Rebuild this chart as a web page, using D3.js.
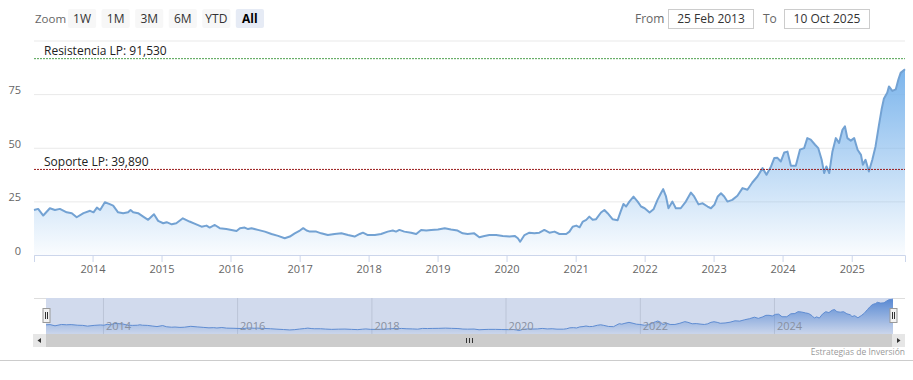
<!DOCTYPE html>
<html><head><meta charset="utf-8">
<script src="https://cdn.jsdelivr.net/npm/d3@7"></script>
<style>
body{margin:0;background:#fff;}
svg{display:block;font-family:"Open Sans",sans-serif;}
</style>
</head><body>
<svg id="chart" width="913" height="380"></svg>
<script>
const dates = ["2013-02-25","2013-03-19","2013-04-15","2013-05-20","2013-06-16","2013-07-12","2013-08-17","2013-09-13","2013-10-09","2013-11-14","2013-12-19",
"2014-01-06","2014-01-24","2014-02-10","2014-03-07","2014-04-02","2014-04-20","2014-05-16","2014-06-12","2014-07-08","2014-07-21","2014-08-04","2014-08-30","2014-09-26","2014-10-22","2014-11-22","2014-12-14",
"2015-01-10","2015-01-28","2015-02-24","2015-03-20","2015-04-24","2015-05-29","2015-07-04","2015-08-01","2015-08-27","2015-09-13","2015-10-10","2015-11-05","2015-12-10",
"2016-01-06","2016-02-02","2016-02-20","2016-03-16","2016-04-03","2016-04-21","2016-05-25","2016-07-01","2016-08-05","2016-09-09","2016-10-14","2016-11-10","2016-12-06",
"2017-01-02","2017-01-20","2017-02-07","2017-02-24","2017-03-30","2017-04-25","2017-05-30","2017-07-05","2017-08-10","2017-09-14","2017-10-19","2017-11-15","2017-12-02","2017-12-28",
"2018-02-03","2018-03-08","2018-04-12","2018-05-09","2018-05-26","2018-06-13","2018-07-09","2018-08-14","2018-09-10","2018-10-06","2018-11-02","2018-11-28",
"2019-01-03","2019-02-08","2019-03-13","2019-04-17","2019-05-14","2019-06-09","2019-07-14","2019-08-10","2019-09-06","2019-10-02","2019-11-07","2019-12-12",
"2020-01-17","2020-02-13","2020-03-01","2020-03-13","2020-04-05","2020-05-01","2020-05-27","2020-06-23","2020-07-19","2020-08-15","2020-09-11","2020-10-07","2020-11-12","2020-11-29","2020-12-16",
"2021-01-04","2021-01-22","2021-02-08","2021-02-26","2021-03-14","2021-04-01","2021-04-19","2021-05-15","2021-06-02","2021-06-19","2021-07-15","2021-08-11","2021-08-24","2021-09-11","2021-09-25","2021-10-12","2021-11-03","2021-11-25","2021-12-13",
"2022-01-01","2022-01-27","2022-02-17","2022-03-10","2022-03-28","2022-04-09","2022-04-24","2022-05-07","2022-05-28","2022-06-15","2022-07-11","2022-08-07","2022-09-03","2022-09-20","2022-10-13","2022-11-04","2022-11-30","2022-12-18",
"2023-01-05","2023-01-23","2023-02-09","2023-02-26","2023-03-15","2023-04-10","2023-05-07","2023-06-03","2023-06-29","2023-07-25","2023-08-21","2023-09-17","2023-10-08","2023-11-01","2023-11-18","2023-12-05","2023-12-23",
"2024-01-10","2024-01-27","2024-02-14","2024-03-11","2024-04-02","2024-04-24","2024-05-11","2024-05-29","2024-06-21","2024-07-08","2024-07-26","2024-08-08","2024-08-20","2024-09-04","2024-09-21","2024-10-09","2024-10-26","2024-11-13","2024-11-26","2024-12-09","2024-12-27",
"2025-01-14","2025-02-01","2025-02-19","2025-03-01","2025-03-15","2025-04-02","2025-04-20","2025-05-07","2025-05-24","2025-06-08","2025-06-20","2025-07-08","2025-07-17","2025-08-04","2025-08-22","2025-09-05","2025-09-17","2025-10-10"];
const values = [21.0,21.5,18.4,21.8,21.0,21.5,19.9,19.5,17.6,19.5,20.6,
19.9,22.1,21.0,24.6,23.7,23.0,19.9,19.5,19.9,21.0,19.9,19.5,17.9,16.4,19.0,15.9,
14.8,15.3,14.3,14.8,17.1,15.6,14.3,13.2,13.7,12.8,14.0,12.5,12.1,
11.7,11.2,12.5,12.8,12.1,12.5,11.7,10.9,9.8,8.9,7.8,8.6,10.1,
11.4,12.5,11.4,10.9,10.9,10.1,9.3,9.8,10.1,9.3,8.6,9.8,10.4,9.3,
9.3,9.8,10.9,11.4,10.9,11.7,10.9,10.4,9.8,11.7,11.4,11.7,
11.9,12.5,11.9,11.4,10.1,9.8,10.1,8.3,8.9,9.3,9.3,8.9,
8.6,8.9,7.8,6.2,9.3,10.4,10.1,10.4,11.7,10.4,10.9,9.8,9.8,10.9,13.2,
13.7,12.9,15.6,16.4,17.9,16.4,16.7,19.8,21.0,19.5,16.7,16.2,19.5,23.8,22.6,24.9,27.2,24.9,22.6,
21.8,19.8,21.3,25.7,28.8,30.7,27.3,21.8,24.9,21.8,21.8,24.9,29.1,27.3,23.6,24.1,22.6,21.8,
23.4,27.3,28.8,27.3,24.9,25.7,27.6,31.2,30.4,33.8,36.6,40.5,37.4,41.3,45.2,45.3,43.6,
47.8,48.2,41.6,41.6,49.1,49.8,54.5,53.8,51.4,49.8,44.4,38.2,41.3,38.2,48.3,54.5,52.2,58.4,60.0,54.5,53.3,
54.5,49.1,46.7,42.1,44.4,38.9,44.4,50.6,60.0,67.8,72.8,75.6,78.6,76.5,77.2,81.8,84.9,86.6];
const yTicks = [0,25,50,75,100];
const xTickYears = [2014,2015,2016,2017,2018,2019,2020,2021,2022,2023,2024,2025];
const navTickYears = [2014,2016,2018,2020,2022,2024];
const zoomButtons = ["1W","1M","3M","6M","YTD","All"];
const plotLineValues = [91.53, 39.89];
const plotLineLabels = ["Resistencia LP: 91,530","Soporte LP: 39,890"];
const plotLineColors = ["#4ea04e","#9a1c1c"];
const rangeFrom = "25 Feb 2013", rangeTo = "10 Oct 2025";
const creditText = "Estrategias de Inversión";

const parse = d3.timeParse("%Y-%m-%d");
const data = dates.map((d,i)=>({date:parse(d), v:values[i]}));
const start = parse("2013-02-25"), end = parse("2025-10-10");

const svg = d3.select("#chart");
const defs = svg.append("defs");
const g1 = defs.append("linearGradient").attr("id","areaGrad").attr("x1",0).attr("y1",0).attr("x2",0).attr("y2",1);
g1.append("stop").attr("offset","0").attr("stop-color","#7cb5ec").attr("stop-opacity",1);
g1.append("stop").attr("offset","1").attr("stop-color","#7cb5ec").attr("stop-opacity",0.04);
const g2 = defs.append("linearGradient").attr("id","navGrad").attr("x1",0).attr("y1",0).attr("x2",0).attr("y2",1);
g2.append("stop").attr("offset","0").attr("stop-color","#4a86d8").attr("stop-opacity",0.95);
g2.append("stop").attr("offset","1").attr("stop-color","#4a86d8").attr("stop-opacity",0.05);

// ---- Range selector ----
svg.append("text").attr("x",35).attr("y",23).attr("font-size",11.5).attr("fill","#666").text("Zoom");
const bx = d3.scaleBand().domain(zoomButtons).range([68,264]).paddingInner(0.16);
const btn = svg.selectAll(".btn").data(zoomButtons).join("g").attr("transform",d=>`translate(${bx(d)},9)`);
btn.append("rect").attr("width",bx.bandwidth()).attr("height",19).attr("rx",2)
  .attr("fill",d=>d==="All"?"#e6ebf5":"#f7f7f7");
btn.append("text").attr("x",bx.bandwidth()/2).attr("y",14).attr("text-anchor","middle")
  .attr("font-size",12).attr("font-weight",d=>d==="All"?"bold":"normal").attr("fill",d=>d==="All"?"#000":"#333").text(d=>d);

svg.append("text").attr("x",635).attr("y",23).attr("font-size",12).attr("fill","#666").text("From");
svg.append("rect").attr("x",668.5).attr("y",9.5).attr("width",85).attr("height",19).attr("fill","#fff").attr("stroke","#ccc");
svg.append("text").attr("x",711).attr("y",23).attr("text-anchor","middle").attr("font-size",12).attr("fill","#333").text(rangeFrom);
svg.append("text").attr("x",763).attr("y",23).attr("font-size",12).attr("fill","#666").text("To");
svg.append("rect").attr("x",784.5).attr("y",9.5).attr("width",85).attr("height",19).attr("fill","#fff").attr("stroke","#ccc");
svg.append("text").attr("x",827).attr("y",23).attr("text-anchor","middle").attr("font-size",12).attr("fill","#333").text(rangeTo);

// ---- Main plot ----
const x = d3.scaleTime().domain([start,end]).range([34,905]);
const y = d3.scaleLinear().domain([0,100]).range([255,40.5]);

svg.append("g").attr("transform","translate(34,0)")
  .call(d3.axisLeft(y).tickValues(yTicks).tickSize(-871).tickFormat(""))
  .call(g=>{g.select(".domain").remove(); g.selectAll("line").attr("stroke","#e9e9e9");});

const area = d3.area().x(d=>x(d.date)).y0(y(0)).y1(d=>y(d.v));
const line = d3.line().x(d=>x(d.date)).y(d=>y(d.v));
svg.append("path").datum(data).attr("d",area).attr("fill","url(#areaGrad)");
svg.append("path").datum(data).attr("d",line).attr("fill","none").attr("stroke","#73a2d3").attr("stroke-width",2).attr("stroke-linejoin","round");

svg.append("g").attr("transform","translate(0,255)")
  .call(d3.axisBottom(x).tickValues(xTickYears.map(yr=>new Date(yr,0,1))).tickFormat(d3.timeFormat("%Y")).tickSize(7).tickPadding(3))
  .call(g=>{g.select(".domain").attr("stroke","#ccd6eb");
    g.selectAll("line").attr("stroke","#ccd6eb");
    g.selectAll("text").attr("font-size",11).attr("fill","#666").attr("font-family","Open Sans");});

svg.append("g").attr("transform","translate(21,0)")
  .call(d3.axisLeft(y).tickValues(yTicks.filter(v=>v<100)).tickSize(0).tickPadding(0))
  .call(g=>{g.select(".domain").remove();
    g.selectAll("text").attr("font-size",11).attr("fill","#666").attr("dy","-0.05em").attr("font-family","Open Sans");});

plotLineValues.forEach((v,i)=>{
  svg.append("line").attr("x1",34).attr("x2",905).attr("y1",y(v)).attr("y2",y(v))
    .attr("stroke",plotLineColors[i]).attr("stroke-width",1).attr("stroke-dasharray","2,1");
  svg.append("text").attr("x",44).attr("y",y(v)-3.5).attr("font-size",12).attr("fill","#222").text(plotLineLabels[i]);
});

// ---- Navigator ----
const xn = d3.scaleTime().domain([start,end]).range([46,893]);
const yn = d3.scaleLinear().domain([0,87]).range([333,299]);
svg.append("g").attr("transform","translate(0,298)")
  .call(d3.axisBottom(xn).tickValues(navTickYears.map(yr=>new Date(yr,0,1))).tickSize(36).tickFormat(""))
  .call(g=>{g.select(".domain").remove(); g.selectAll("line").attr("stroke","#e0e0e0");});
const navArea = d3.area().x(d=>xn(d.date)).y0(334).y1(d=>yn(d.v));
const navLine = d3.line().x(d=>xn(d.date)).y(d=>yn(d.v));
svg.append("path").datum(data).attr("d",navArea).attr("fill","url(#navGrad)");
svg.append("path").datum(data).attr("d",navLine).attr("fill","none").attr("stroke","#5b8fd8").attr("stroke-width",1);
svg.append("rect").attr("x",46).attr("y",298).attr("width",847).attr("height",36).attr("fill","rgba(102,133,194,0.3)");
svg.append("g").selectAll("text").data(navTickYears).join("text")
  .attr("x",d=>xn(new Date(d,0,1))+3).attr("y",330).attr("font-size",11).attr("fill","#8890a0").text(d=>d);
svg.append("path").attr("d","M34,298.5H46M893,298.5H905").attr("stroke","#ddd").attr("fill","none");
[46,893].forEach(hx=>{
  const h = svg.append("g").attr("transform",`translate(${hx-3.5},308)`);
  h.append("rect").attr("x",0.5).attr("y",0.5).attr("width",7).attr("height",14).attr("fill","#f2f2f2").attr("stroke","#999");
  h.append("path").attr("d","M3,4V11M5,4V11").attr("stroke","#333").attr("stroke-width",1);
});

svg.append("rect").attr("x",33).attr("y",334).attr("width",872).attr("height",13).attr("fill","#f2f2f2");
svg.append("rect").attr("x",46).attr("y",334).attr("width",846).attr("height",13).attr("fill","#cccccc");
svg.append("rect").attr("x",33).attr("y",334).attr("width",13).attr("height",13).attr("fill","#e6e6e6");
svg.append("rect").attr("x",892).attr("y",334).attr("width",13).attr("height",13).attr("fill","#e6e6e6");
svg.append("path").attr("d","M41,338L37.5,340.5L41,343Z").attr("fill","#333");
svg.append("path").attr("d","M897,338L900.5,340.5L897,343Z").attr("fill","#333");
svg.append("path").attr("d","M466.5,338V343M469.5,338V343M472.5,338V343").attr("stroke","#333").attr("stroke-width",1);

svg.append("line").attr("x1",0).attr("x2",913).attr("y1",360.5).attr("y2",360.5).attr("stroke","#ccc");
svg.append("text").attr("x",905).attr("y",355).attr("text-anchor","end").attr("font-size",8.5).attr("fill","#999").text(creditText);
</script>
</body></html>
